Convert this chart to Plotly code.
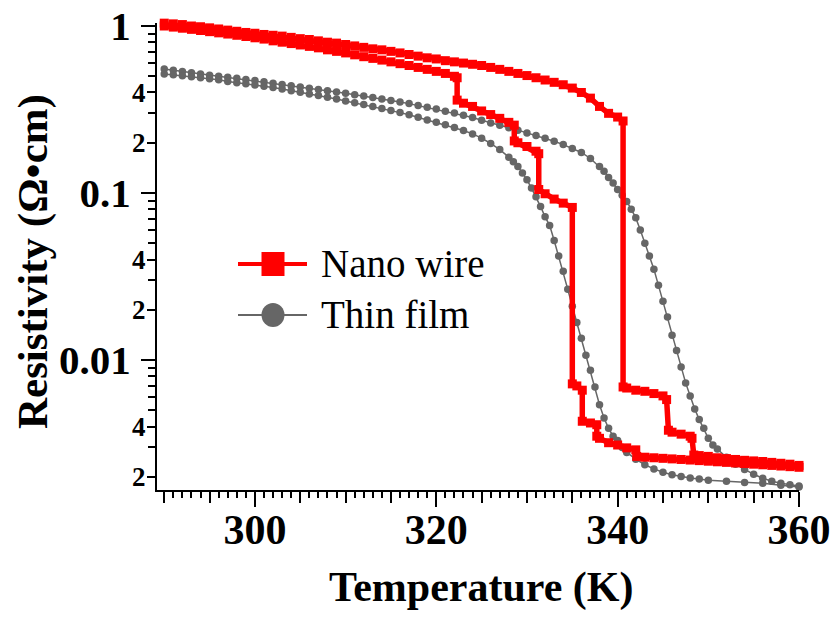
import plotly.graph_objects as go

# ---------------- data ----------------
# Nano wire, heating branch (K, Ohm*cm)
T_nano_heat = [290, 291, 292, 293, 294, 295, 296, 297, 298, 299, 300, 301, 302, 303, 304,
               305, 306, 307, 308, 309, 310, 311, 312, 313, 314, 315, 316, 317, 318, 319,
               320, 321, 322, 323, 324, 325, 326, 327, 328, 329, 330, 331, 332, 333, 334,
               335, 336, 337, 338, 339, 340, 340.6, 340.6, 341, 342, 343, 344, 345, 345.4,
               345.6, 346, 347, 348, 348.2, 348.4, 349, 350, 351, 352, 353, 354, 355, 356,
               357, 358, 359, 360]
rho_nano_heat = [1.04, 1.03, 1.02, 1.00, 0.99, 0.975, 0.96, 0.945, 0.93, 0.915, 0.905, 0.89,
                 0.88, 0.87, 0.855, 0.84, 0.83, 0.815, 0.80, 0.79, 0.775, 0.76, 0.745, 0.73,
                 0.72, 0.705, 0.69, 0.675, 0.66, 0.645, 0.635, 0.62, 0.61, 0.60, 0.59, 0.58,
                 0.565, 0.55, 0.535, 0.52, 0.505, 0.49, 0.475, 0.46, 0.445, 0.425, 0.40, 0.37,
                 0.33, 0.30, 0.285, 0.27, 0.0069, 0.0068, 0.0066, 0.0065, 0.0063, 0.0061,
                 0.0058, 0.0038, 0.0037, 0.0036, 0.0035, 0.0034, 0.0027, 0.00268, 0.00265,
                 0.0026, 0.00257, 0.00254, 0.00251, 0.00249, 0.00247, 0.00244, 0.00241,
                 0.00238, 0.00234]

# Nano wire, cooling branch
T_nano_cool = [290, 291, 292, 293, 294, 295, 296, 297, 298, 299, 300, 301, 302, 303, 304,
               305, 306, 307, 308, 309, 310, 311, 312, 313, 314, 315, 316, 317, 318, 319,
               320, 321, 322, 322.3, 322.3, 323, 324, 325, 326, 327, 328, 328.6, 328.6, 329,
               330, 331, 331.3, 331.3, 332, 333, 334, 335, 335.0, 335.5, 336.1, 336.1, 337,
               337.7, 337.7, 338, 339, 340, 341, 342, 342.1, 343, 344, 345, 346, 347, 348,
               349, 350, 351, 352, 353, 354, 355, 356, 357, 358, 359, 360]
rho_nano_cool = [1.00, 0.985, 0.97, 0.955, 0.94, 0.925, 0.91, 0.895, 0.88, 0.865, 0.85, 0.835,
                 0.815, 0.80, 0.785, 0.77, 0.755, 0.74, 0.72, 0.705, 0.69, 0.672, 0.655,
                 0.64, 0.625, 0.61, 0.595, 0.58, 0.565, 0.55, 0.535, 0.52, 0.50, 0.49, 0.36,
                 0.345, 0.33, 0.31, 0.295, 0.28, 0.265, 0.255, 0.205, 0.20, 0.19, 0.178,
                 0.172, 0.105, 0.099, 0.092, 0.087, 0.082, 0.0072, 0.0070, 0.0066, 0.0043,
                 0.0042, 0.0041, 0.0035, 0.0034, 0.0032, 0.0031, 0.00298, 0.0029, 0.00265,
                 0.00262, 0.0026, 0.00258, 0.00256, 0.00254, 0.00252, 0.0025, 0.00248,
                 0.00246, 0.00244, 0.00242, 0.0024, 0.00238, 0.00236, 0.00234, 0.00232,
                 0.0023, 0.00228]

# Thin film, heating branch
T_film_heat = [290, 291, 292, 293, 294, 295, 296, 297, 298, 299, 300, 301, 302, 303, 304,
               305, 306, 307, 308, 309, 310, 311, 312, 313, 314, 315, 316, 317, 318, 319,
               320, 321, 322, 323, 324, 325, 326, 327, 328, 329, 330, 331, 332, 333, 334,
               335, 336, 337, 338, 338.5, 339, 339.5, 340, 340.5, 341, 341.5, 342, 342.5,
               343, 343.5, 344, 344.5, 345, 345.5, 346, 346.5, 347, 347.5, 348, 348.5, 349,
               349.5, 350, 350.5, 351, 352, 353, 354, 355, 356, 357, 358, 359, 360]
rho_film_heat = [0.553, 0.544, 0.535, 0.525, 0.516, 0.508, 0.501, 0.494, 0.486, 0.479, 0.471,
                 0.463, 0.455, 0.447, 0.439, 0.431, 0.424, 0.417, 0.410, 0.403, 0.396, 0.388,
                 0.381, 0.373, 0.366, 0.358, 0.351, 0.343, 0.334, 0.326, 0.318, 0.309, 0.301,
                 0.292, 0.283, 0.273, 0.263, 0.255, 0.246, 0.238, 0.229, 0.221, 0.213, 0.204,
                 0.195, 0.185, 0.175, 0.161, 0.144, 0.135, 0.124, 0.115, 0.105, 0.097, 0.089,
                 0.080, 0.071, 0.060, 0.050, 0.042, 0.035, 0.028, 0.0225, 0.0181, 0.0141,
                 0.0114, 0.0091, 0.0073, 0.0061, 0.0051, 0.0044, 0.0039, 0.0034, 0.0031,
                 0.00293, 0.00262, 0.00238, 0.00221, 0.00207, 0.00196, 0.00188, 0.00183,
                 0.00179, 0.00176]

# Thin film, cooling branch
T_film_cool = [290, 291, 292, 293, 294, 295, 296, 297, 298, 299, 300, 301, 302, 303, 304,
               305, 306, 307, 308, 309, 310, 311, 312, 313, 314, 315, 316, 317, 318, 319,
               320, 321, 322, 323, 324, 325, 326, 327, 328, 328.5, 329, 329.5, 330, 330.5,
               331, 331.5, 332, 332.5, 333, 333.5, 334, 334.5, 335, 335.5, 336, 336.5, 337,
               337.5, 338, 338.5, 339, 339.5, 340, 340.5, 341, 342, 343, 344, 345, 346, 347,
               348, 349, 350, 352, 354, 356, 358, 360]
rho_film_cool = [0.516, 0.510, 0.503, 0.497, 0.490, 0.484, 0.476, 0.465, 0.458, 0.451, 0.444,
                 0.436, 0.428, 0.419, 0.410, 0.401, 0.392, 0.383, 0.374, 0.365, 0.356, 0.347,
                 0.339, 0.330, 0.321, 0.312, 0.303, 0.294, 0.284, 0.274, 0.265, 0.256, 0.247,
                 0.237, 0.226, 0.213, 0.198, 0.182, 0.164, 0.154, 0.144, 0.132, 0.120, 0.107,
                 0.095, 0.083, 0.072, 0.064, 0.052, 0.042, 0.034, 0.0265, 0.021, 0.0168,
                 0.0135, 0.0107, 0.0087, 0.0069, 0.0054, 0.0045, 0.0039, 0.0035, 0.0033,
                 0.0030, 0.0028, 0.00255, 0.00236, 0.00223, 0.00213, 0.00206, 0.00201,
                 0.00197, 0.00194, 0.00191, 0.00188, 0.00185, 0.00183, 0.00178, 0.00174]

series_names = ["Nano wire", "Thin film"]
x_title = "Temperature (K)"
y_title = "Resistivity (Ω•cm)"
x_major_ticks = [300, 320, 340, 360]
x_mid_ticks = [290, 295, 305, 310, 315, 325, 330, 335, 345, 350, 355]
y_major_ticks = [0.01, 0.1, 1]
y_major_text = ["0.01", "0.1", "1"]
y_small_ticks = [0.002, 0.004, 0.02, 0.04, 0.2, 0.4]
y_small_text = ["2", "4", "2", "4", "2", "4"]
y_minor_ticks = [m * d for d in (0.001, 0.01, 0.1) for m in range(2, 10)]

# ---------------- style ----------------
RED = "#ff0000"
GRAY = "#666666"
SERIF = "Liberation Serif, Times New Roman, serif"
X_RANGE = [289.2, 360]
Y_RANGE = [-2.778, 0.018]
L, R, T, B = 157, 36, 23, 127          # margins -> plot area x 157..799, y 23..490
W, H = 835, 617
PW, PH = W - L - R, H - T - B

fig = go.Figure()

for Tv, r in ((T_film_heat, rho_film_heat), (T_film_cool, rho_film_cool)):
    fig.add_trace(go.Scatter(
        x=Tv, y=r, mode="lines+markers", showlegend=False, cliponaxis=False,
        line=dict(color=GRAY, width=1.5),
        marker=dict(symbol="circle", size=7.5, color=GRAY, line=dict(width=0)),
        name=series_names[1]))

for Tv, r in ((T_nano_heat, rho_nano_heat), (T_nano_cool, rho_nano_cool)):
    fig.add_trace(go.Scatter(
        x=Tv, y=r, mode="lines+markers", showlegend=False, cliponaxis=False,
        line=dict(color=RED, width=5.5),
        marker=dict(symbol="square", size=9, color=RED, line=dict(width=0)),
        name=series_names[0]))

# dummy trace to hold the overlay axes (mid-length x ticks, small y labels)
fig.add_trace(go.Scatter(x=[], y=[], xaxis="x2", yaxis="y2", showlegend=False,
                         hoverinfo="skip"))

fig.update_layout(
    width=W, height=H,
    margin=dict(l=L, r=R, t=T, b=B),
    paper_bgcolor="white", plot_bgcolor="white",
    showlegend=False,
    font=dict(family=SERIF, color="black"),
    xaxis=dict(
        range=X_RANGE, showgrid=False, zeroline=False, automargin=False,
        showline=True, linecolor="black", linewidth=2,
        ticks="outside", tickvals=x_major_ticks, ticklen=15, tickwidth=2,
        tickcolor="black", ticklabelstandoff=-13,
        tickfont=dict(family=SERIF, size=42, weight="bold", color="black"),
        minor=dict(ticks="outside", dtick=1, tick0=290, ticklen=6, tickwidth=1.5,
                   tickcolor="black", showgrid=False),
    ),
    yaxis=dict(
        type="log", range=Y_RANGE, showgrid=False, zeroline=False, automargin=False,
        showline=True, linecolor="black", linewidth=2,
        ticks="outside", tickvals=y_major_ticks, ticktext=y_major_text,
        ticklen=14, tickwidth=2, tickcolor="black", ticklabelstandoff=2,
        tickfont=dict(family=SERIF, size=41, weight="bold", color="black"),
        minor=dict(ticks="outside", tickvals=y_minor_ticks, ticklen=7, tickwidth=1.5,
                   tickcolor="black", showgrid=False),
    ),
    xaxis2=dict(
        overlaying="x", range=X_RANGE, showgrid=False, zeroline=False, showline=False,
        ticks="outside", tickvals=x_mid_ticks, ticklen=12, tickwidth=1.5,
        tickcolor="black", showticklabels=False, side="bottom", automargin=False,
    ),
    yaxis2=dict(
        overlaying="y", type="log", range=Y_RANGE, showgrid=False, zeroline=False,
        showline=False, side="left", automargin=False,
        ticks="outside", tickvals=y_small_ticks, ticktext=y_small_text,
        ticklen=9, tickwidth=1.5, tickcolor="black", ticklabelstandoff=-4,
        tickfont=dict(family=SERIF, size=27, weight="bold", color="black"),
    ),
)

def px_x(p):
    return (p - L) / float(PW)

def px_y(p):
    return (H - B - p) / float(PH)

# axis titles
fig.add_annotation(text=x_title, xref="paper", yref="paper",
                   x=px_x(481), y=px_y(587), xanchor="center", yanchor="middle",
                   showarrow=False,
                   font=dict(family=SERIF, size=42, weight="bold", color="black"))
fig.add_annotation(text=y_title, xref="paper", yref="paper", textangle=-90,
                   x=px_x(33), y=px_y(262), xanchor="center", yanchor="middle",
                   showarrow=False,
                   font=dict(family=SERIF, size=43, weight="bold", color="black"))

# ---------------- legend drawn by hand ----------------
legend_items = [
    (series_names[0], RED, "rect", 264, 4),
    (series_names[1], GRAY, "circle", 315, 2),
]
for name, col, shp, yc, lw in legend_items:
    fig.add_shape(type="line", xref="paper", yref="paper",
                  x0=px_x(238), x1=px_x(307), y0=px_y(yc), y1=px_y(yc),
                  line=dict(color=col, width=lw))
    fig.add_shape(type=shp, xref="paper", yref="paper",
                  xsizemode="pixel", ysizemode="pixel",
                  xanchor=px_x(273), yanchor=px_y(yc),
                  x0=-11.5, x1=11.5, y0=-12, y1=12,
                  fillcolor=col, line=dict(width=0))
    fig.add_annotation(text=name, xref="paper", yref="paper",
                       x=px_x(319), y=px_y(yc - 1), xanchor="left", yanchor="middle",
                       showarrow=False,
                       font=dict(family=SERIF, size=39, color="black"))

fig.write_html("out.html",
               config={"displayModeBar": False},
               post_script="document.body.style.margin='0px';"
                           "document.body.style.overflow='hidden';")
